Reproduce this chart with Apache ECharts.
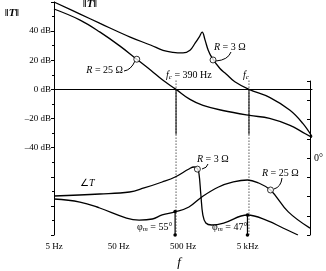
<!DOCTYPE html>
<html><head><meta charset="utf-8">
<script src="https://cdn.jsdelivr.net/npm/echarts@6/dist/echarts.min.js"></script>
<style>html,body{margin:0;padding:0;background:#fff}#c{width:326px;height:271px}</style>
</head><body><div id="c"></div>
<script>
// ---- data (frequency in Hz, magnitude in dB, phase in degrees) ----
const magFreqR3  = [5, 12.7, 25.9, 75.9, 160, 245, 350, 500, 642, 770, 890, 990, 1100, 1230, 1420, 1870, 2330, 3180, 5270, 11000, 22800, 36000, 50000];
const magR3      = [60, 51.7, 45.3, 35.9, 30.3, 26.8, 25.4, 25.0, 26.9, 31.7, 35.9, 39.3, 33.8, 26.9, 21.4, 14.3, 10.6, 5.2, 0, -5.5, -14.4, -23.4, -32.4];
const magFreqR25 = [5, 12.7, 25.9, 52.8, 96, 160, 245, 390, 642, 1021, 2070, 5400, 11000, 22800, 36000, 50000];
const magR25     = [55.2, 47.6, 39.3, 29.7, 20.7, 13.0, 6.2, 0, -6.9, -11, -14.5, -17.9, -19.9, -24.7, -29.5, -33];
const phFreqR3   = [5, 25.9, 75.9, 128, 245, 390, 642, 770, 855, 918, 986, 1058, 1178, 1459, 2240, 5270, 11000, 18900, 32400];
const phaseR3    = [-88.8, -84.2, -79.5, -70.1, -56.1, -44.4, -25.7, -21, -23.4, -35, -86.5, -133, -152, -156.6, -152, -133.2, -147, -163.6, -180];
const phFreqR25  = [5, 12.7, 25.9, 67.9, 107, 172, 245, 390, 642, 1021, 1863, 3175, 5270, 7840, 12080, 22900, 50000];
const phaseR25   = [-95.8, -102.9, -116.9, -140.3, -145, -142.6, -133.2, -126, -114.5, -91, -67.8, -56, -51.4, -58.4, -74.8, -126, -164];
const crossFreqs = [390, 5270];          // f_c for R = 25 Ω and R = 3 Ω
const phaseMargins = [55, 47];           // degrees
const magMarkers = [[96, 20.7], [1460, 20.2]];
const phaseMarkers = [[870, -26], [12080, -74.8]];
const freqTicks = [5, 50, 500, 5000];
const freqTickLabels = ['5 Hz', '50 Hz', '500 Hz', '5 kHz'];
const dbTicks = [40, 20, 0, -20, -40];

const zip = (a, b) => a.map((v, i) => [v, b[i]]);
const FONT = 'Liberation Serif';
const black = '#000';

const chart = echarts.init(document.getElementById('c'), null, {renderer: 'canvas'});

const curve = (name, data, xi, yi) => ({
  name, type: 'line', xAxisIndex: xi, yAxisIndex: yi, data, symbol: 'none',
  smooth: 0.4, lineStyle: {color: black, width: 1.3}, z: 3, silent: true
});
const seg = (data, xi, yi, type, w) => ({
  type: 'line', xAxisIndex: xi, yAxisIndex: yi, data, symbol: 'none',
  lineStyle: {color: black, width: w || 1, type: type || 'solid'}, z: 2, silent: true
});

const series = [
  curve('magR3', zip(magFreqR3, magR3), 0, 0),
  curve('magR25', zip(magFreqR25, magR25), 0, 0),
  curve('phR3', zip(phFreqR3, phaseR3), 1, 1),
  curve('phR25', zip(phFreqR25, phaseR25), 1, 1),
  {
    type: 'line', xAxisIndex: 0, yAxisIndex: 0, data: [], silent: true,
    markLine: {silent: true, symbol: 'none', label: {show: false},
      lineStyle: {color: black, width: 1, type: 'solid'}, data: [{yAxis: 0}]}
  },
  {
    type: 'scatter', xAxisIndex: 0, yAxisIndex: 0, data: magMarkers, symbol: 'circle', symbolSize: 6,
    itemStyle: {color: '#fff', borderColor: black, borderWidth: 1}, z: 5, silent: true
  },
  {
    type: 'scatter', xAxisIndex: 1, yAxisIndex: 1, data: phaseMarkers, symbol: 'circle', symbolSize: 6,
    itemStyle: {color: '#fff', borderColor: black, borderWidth: 1}, z: 5, silent: true
  }
];
crossFreqs.forEach((f, i) => {
  series.push(seg([[f, 6], [f, -100]], 0, 0, [1, 2], 1));
  series.push(seg([[f, 0], [f, -31]], 0, 0, 'solid', 1));
  series.push({
    type: 'line', xAxisIndex: 1, yAxisIndex: 1, data: [[f, -180 + phaseMargins[i]], [f, -180]],
    symbol: 'circle', symbolSize: 3.5, itemStyle: {color: black},
    lineStyle: {color: black, width: 1.2}, z: 4, silent: true
  });
});

const option = {
  animation: false,
  backgroundColor: '#fff',
  grid: [
    {left: 54, top: 2, width: 258, height: 233},
    {left: 54, top: 81, width: 258, height: 154}
  ],
  xAxis: [
    {gridIndex: 0, type: 'log', logBase: 10, min: 5, max: 50000,
     axisLine: {show: true, lineStyle: {color: black, width: 1}},
     axisTick: {show: false}, axisLabel: {show: false}, splitLine: {show: false}, minorTick: {show: false}},
    {gridIndex: 1, type: 'log', logBase: 10, min: 5, max: 50000, show: false}
  ],
  yAxis: [
    {gridIndex: 0, type: 'value', min: -100, max: 60, interval: 20,
     axisLine: {show: true, lineStyle: {color: black, width: 1}},
     axisTick: {show: true, length: 3, lineStyle: {color: black}},
     minorTick: {show: true, splitNumber: 2, length: 2, lineStyle: {color: black}},
     splitLine: {show: false},
     axisLabel: {margin: 3, fontFamily: FONT, fontSize: 9, color: black,
       formatter: v => dbTicks.includes(v) ? (v < 0 ? '\u2013' + (-v) : v) + ' dB' : ''}},
    {gridIndex: 1, type: 'value', position: 'right', min: -180, max: 180, interval: 45,
     axisLine: {show: true, lineStyle: {color: black, width: 1}},
     axisTick: {show: true, inside: true, length: 3, lineStyle: {color: black}},
     splitLine: {show: false},
     axisLabel: {margin: 4, fontFamily: FONT, fontSize: 10, color: black,
       formatter: v => v === 0 ? '0\u00B0' : ''}}
  ],
  series
};
chart.setOption(option);

// ---- annotations ----
const rich = {
  i: {fontFamily: FONT, fontStyle: 'italic', fontSize: 10, fill: black},
  s: {fontFamily: FONT, fontStyle: 'italic', fontSize: 7, fill: black, verticalAlign: 'bottom', padding: [5, 0, 0, 0]},
  n: {fontFamily: FONT, fontSize: 10, fill: black}
};
const richTxt = (x, y, text, align) => ({
  type: 'text', x, y, silent: true,
  style: {text, rich, fill: black, font: '10px "' + FONT + '"', align: align || 'left', verticalAlign: 'middle'}
});
const leader = (x1, y1, cx, cy, x2, y2) => ({
  type: 'bezierCurve', silent: true,
  shape: {x1, y1, x2, y2, cpx1: cx, cpy1: cy},
  style: {stroke: black, lineWidth: 1, fill: null}
});

const elements = [
  {type: 'text', x: 12, y: 13, silent: true, style: {text: '\u2016T\u2016', font: 'italic bold 11px "' + FONT + '"', fill: black, align: 'center', verticalAlign: 'middle'}},
  {type: 'text', x: 90, y: 4, silent: true, style: {text: '\u2016T\u2016', font: 'italic bold 11px "' + FONT + '"', fill: black, align: 'center', verticalAlign: 'middle'}},
  richTxt(166, 75, '{i|f}{s|c}{n| = 390 Hz}'),
  richTxt(243, 75, '{i|f}{s|c}'),
  richTxt(123, 70, '{i|R}{n| = 25 \u03A9}', 'right'),
  richTxt(214, 47, '{i|R}{n| = 3 \u03A9}'),
  richTxt(80, 183, '{n|\u2220}{i|T}'),
  richTxt(197, 159, '{i|R}{n| = 3 \u03A9}'),
  richTxt(262, 173, '{i|R}{n| = 25 \u03A9}'),
  richTxt(137, 227, '{n|\u03C6}{s|m}{n| = ' + phaseMargins[0] + '\u00B0}'),
  richTxt(212, 227, '{n|\u03C6}{s|m}{n| = ' + phaseMargins[1] + '\u00B0}'),
  {type: 'text', x: 179, y: 263, silent: true, style: {text: 'f', font: 'italic 13px "' + FONT + '"', fill: black, align: 'center', verticalAlign: 'middle'}},
  leader(124, 71, 131, 70, 135, 61),
  leader(231, 52, 228, 60, 216, 61),
  leader(208, 164, 207, 168, 202, 169),
  leader(282, 178, 281, 187, 274, 189)
];
freqTicks.forEach((f, i) => {
  const px = chart.convertToPixel({xAxisIndex: 0}, f);
  elements.push({type: 'text', x: px, y: 247, silent: true,
    style: {text: freqTickLabels[i], font: '9px "' + FONT + '"', fill: black, align: 'center', verticalAlign: 'middle'}});
});
chart.setOption({graphic: {elements}});
</script>
</body></html>
